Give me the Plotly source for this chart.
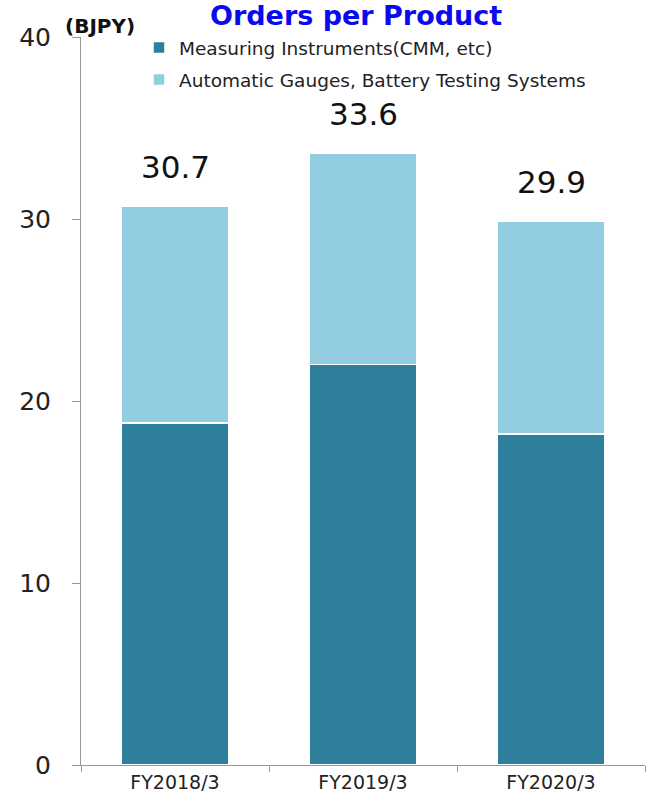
import plotly.graph_objects as go

categories = ["FY2018/3", "FY2019/3", "FY2020/3"]
measuring = [18.8, 22.0, 18.2]
automatic = [11.9, 11.6, 11.7]
totals = [30.7, 33.6, 29.9]
series_names = ["Measuring Instruments(CMM, etc)", "Automatic Gauges, Battery Testing Systems"]
y_ticks = [0, 10, 20, 30, 40]

FONT = "DejaVu Sans, Verdana, sans-serif"
DARK = "#2E7F9B"
LIGHT = "#92CDE1"

fig = go.Figure()
fig.add_trace(go.Bar(x=categories, y=measuring, name=series_names[0],
                     marker=dict(color=DARK, line=dict(color="white", width=1.5)),
                     legendgroup="a", width=0.575))
fig.add_trace(go.Bar(x=categories, y=automatic, name=series_names[1],
                     marker=dict(color=LIGHT, line=dict(color="white", width=1.5)),
                     legendgroup="b", width=0.575))

for c, t in zip(categories, totals):
    fig.add_annotation(x=c, y=t, text=f"{t:.1f}", showarrow=False,
                       yanchor="bottom", yshift=19,
                       font=dict(family=FONT, size=31, color="#111111"))

fig.add_annotation(xref="paper", yref="paper", x=(356 - 81) / 564, y=(765 + 2) / 728,
                   text="<b>Orders per Product</b>", showarrow=False,
                   xanchor="center", yanchor="top",
                   font=dict(family=FONT, size=27, color="#0A0AEE"))
fig.add_annotation(xref="paper", yref="paper", x=(100 - 81) / 564, y=(765 - 26) / 728,
                   text="<b>(BJPY)</b>", showarrow=False,
                   xanchor="center", yanchor="middle",
                   font=dict(family=FONT, size=20, color="#111111"))

fig.update_layout(
    barmode="stack",
    width=659, height=805,
    margin=dict(l=81, r=14, t=37, b=40),
    paper_bgcolor="white", plot_bgcolor="white",
    showlegend=True,
    legend=dict(x=(139 - 81) / 564, y=(765 - 29) / 728, xanchor="left", yanchor="top",
                traceorder="grouped", tracegroupgap=5,
                font=dict(family=FONT, size=18.5, color="#222222"),
                bgcolor="rgba(0,0,0,0)"),
    font=dict(family=FONT),
)
fig.update_yaxes(range=[0, 40], tickvals=y_ticks, ticks="outside", ticklen=8,
                 tickcolor="#999999", showline=True, linecolor="#999999", linewidth=1,
                 showgrid=False, zeroline=False,
                 tickfont=dict(family=FONT, size=25, color="#222222"), ticklabelstandoff=16)
fig.update_xaxes(tickson="boundaries", ticks="outside", ticklen=6, tickcolor="#999999",
                 showline=True, linecolor="#999999", linewidth=1, showgrid=False,
                 tickfont=dict(family=FONT, size=19, color="#222222"))

fig.write_html("out.html")
